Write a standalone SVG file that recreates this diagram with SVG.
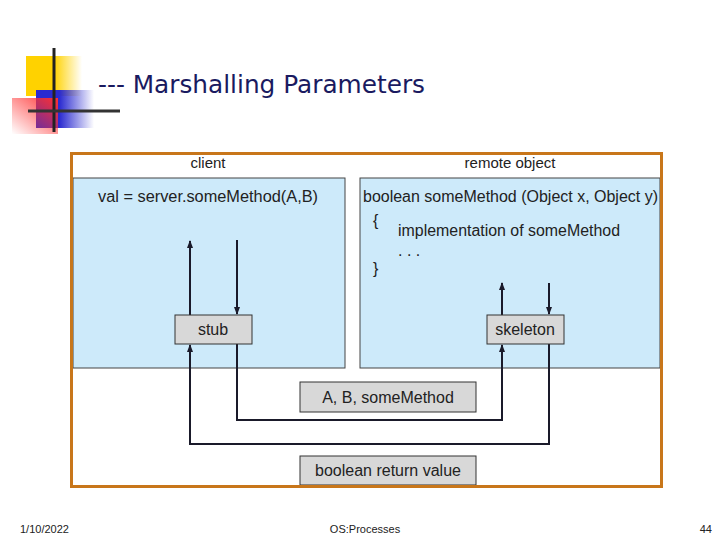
<svg xmlns="http://www.w3.org/2000/svg" width="720" height="540" viewBox="0 0 720 540">
<defs>
<marker id="ah" markerWidth="8" markerHeight="8" refX="7" refY="4" orient="auto" markerUnits="userSpaceOnUse"><path d="M0,1 L8,4 L0,7 Z" fill="#1a1a2a"/></marker>
<linearGradient id="gy" x1="0" x2="1"><stop offset="0.5" stop-color="#ffd200"/><stop offset="1" stop-color="#ffd200" stop-opacity="0"/></linearGradient>
<linearGradient id="gb" x1="0" x2="1"><stop offset="0.4" stop-color="#2a2ad0"/><stop offset="1" stop-color="#2a2ad0" stop-opacity="0"/></linearGradient>
<linearGradient id="gr" x1="1" x2="0" y1="0" y2="1"><stop offset="0" stop-color="#ff3030"/><stop offset="1" stop-color="#ff3030" stop-opacity="0"/></linearGradient>
<style>
.t{font-family:"Liberation Sans",Arial,sans-serif;fill:#222}
.panel{fill:#cdeafa;stroke:#444;stroke-width:1}
.box{fill:#d8d8d8;stroke:#333;stroke-width:1}
.c{fill:none;stroke:#1a1a2a;stroke-width:2}
</style>
</defs>
<rect width="720" height="540" fill="#fff"/>
<rect x="26" y="56" width="56" height="40" fill="url(#gy)"/>
<rect x="36" y="90" width="58" height="38" fill="url(#gb)"/>
<rect x="12" y="98" width="46" height="36" fill="url(#gr)"/>
<line x1="54" y1="48" x2="54" y2="132" stroke="#222" stroke-width="3"/>
<line x1="28" y1="111" x2="120" y2="111" stroke="#333" stroke-width="3"/>
<text x="98" y="93" font-family="DejaVu Sans, sans-serif" font-size="24" fill="#1a1a60" textLength="327" lengthAdjust="spacingAndGlyphs">--- Marshalling Parameters</text>
<rect x="71.5" y="153.5" width="590" height="333" fill="#fff" stroke="#c8761a" stroke-width="3"/>
<text x="208" y="168" class="t" font-size="15" text-anchor="middle">client</text>
<text x="510" y="168" class="t" font-size="15" text-anchor="middle">remote object</text>
<g id="client"><rect class="panel" x="73" y="178" width="272" height="190"/>
<text x="98" y="202" class="t" font-size="16" textLength="220" lengthAdjust="spacingAndGlyphs">val = server.someMethod(A,B)</text></g>
<g id="remote"><rect class="panel" x="360" y="178" width="300" height="190"/>
<text x="363" y="202" class="t" font-size="16" textLength="295" lengthAdjust="spacingAndGlyphs">boolean someMethod (Object x, Object y)</text>
<text x="373" y="226" class="t" font-size="16">{</text>
<text x="398" y="236" class="t" font-size="16" textLength="222" lengthAdjust="spacingAndGlyphs">implementation of someMethod</text>
<text x="398" y="256" class="t" font-size="16">. . .</text>
<text x="373" y="274" class="t" font-size="16">}</text></g>
<g id="connectors">
<line class="c" x1="190" y1="315" x2="190" y2="241" marker-end="url(#ah)"/>
<line class="c" x1="237" y1="240" x2="237" y2="314" marker-end="url(#ah)"/>
<line class="c" x1="502" y1="315" x2="502" y2="283" marker-end="url(#ah)"/>
<line class="c" x1="549" y1="283" x2="549" y2="314" marker-end="url(#ah)"/>
<path class="c" d="M237,344 V420 H502 V345" marker-end="url(#ah)"/>
<path class="c" d="M549,344 V444 H190 V345" marker-end="url(#ah)"/>
</g>
<g id="stub"><rect class="box" x="175" y="315" width="77" height="29"/><text x="213" y="335" class="t" font-size="16" text-anchor="middle">stub</text></g>
<g id="skeleton"><rect class="box" x="487" y="315" width="77" height="29"/><text x="525" y="335" class="t" font-size="16" text-anchor="middle">skeleton</text></g>
<g id="args"><rect class="box" x="300" y="382" width="176" height="30"/><text x="388" y="403" class="t" font-size="16" text-anchor="middle">A, B, someMethod</text></g>
<g id="ret"><rect class="box" x="300" y="456" width="176" height="29"/><text x="388" y="476" class="t" font-size="16" text-anchor="middle">boolean return value</text></g>
<rect x="71.5" y="153.5" width="590" height="333" fill="none" stroke="#c8761a" stroke-width="3"/>
<text x="20" y="533" class="t" font-size="11">1/10/2022</text>
<text x="365" y="533" class="t" font-size="11" text-anchor="middle">OS:Processes</text>
<text x="712" y="533" class="t" font-size="11" text-anchor="end">44</text>
</svg>
